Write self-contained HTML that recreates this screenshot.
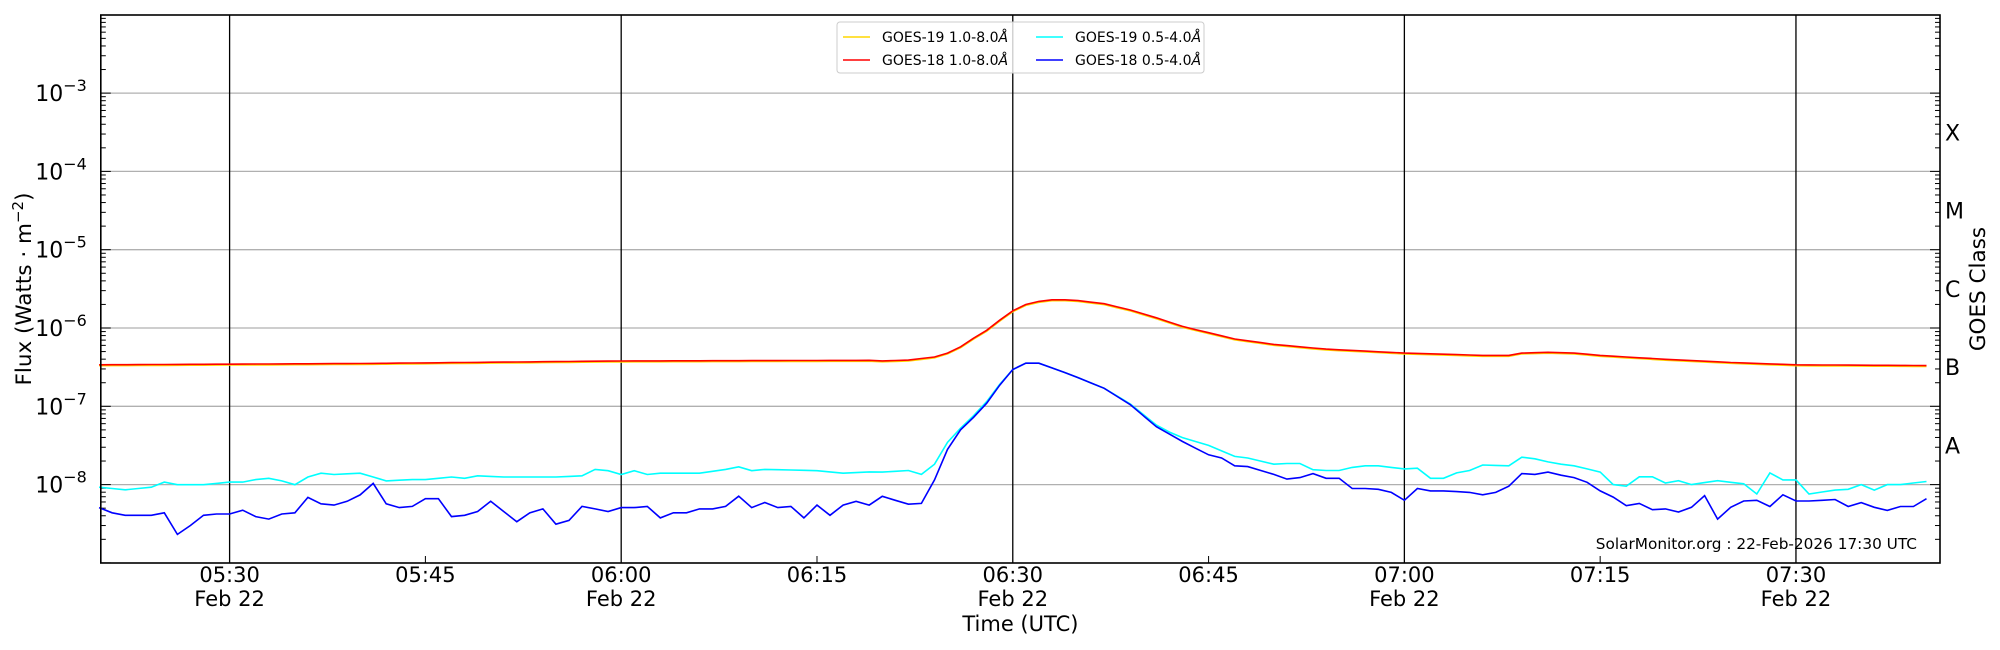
<!DOCTYPE html>
<html><head><meta charset="utf-8"><style>
html,body{margin:0;padding:0;background:#fff;}
svg{display:block;font-family:"DejaVu Sans","Liberation Sans",sans-serif;}
</style></head><body>
<svg id="s" width="2000" height="650" viewBox="0 0 2000 650" xmlns="http://www.w3.org/2000/svg"></svg>
<script>
const L=100.8,R=1940,T=15,B=563;
function Y(lg){return 93.1+(-3-lg)*78.3;}
function X(m){return 229.6+(m-30)*13.053;}
function D(lg){return Y(lg)/1.2755;}
const s=document.getElementById('s');
let h='';
for(let e=-8;e<=-3;e++){h+=`<line x1="${L}" x2="${R}" y1="${Y(e)}" y2="${Y(e)}" stroke="#b0b0b0" stroke-width="1.3"/>`;}
for(let m=30;m<=150;m+=30){h+=`<line x1="${X(m)}" x2="${X(m)}" y1="${T}" y2="${B}" stroke="#000" stroke-width="1.3"/>`;}
for(let m=45;m<=135;m+=30){h+=`<line x1="${X(m)}" x2="${X(m)}" y1="${B}" y2="${B-7}" stroke="#000" stroke-width="1"/>`;}
for(let e=-9;e<=-3;e++){
  for(let k=1;k<=9;k++){
    const lg=e+Math.log10(k); const y=Y(lg); if(y<T||y>B)continue;
    const len=k==1?10:5;
    h+=`<line x1="${L}" x2="${L+len}" y1="${y}" y2="${y}" stroke="#000" stroke-width="1"/>`;
    h+=`<line x1="${R}" x2="${R-len}" y1="${y}" y2="${y}" stroke="#000" stroke-width="1"/>`;
  }
}
function series(keys){
  const pts=[];
  for(let m=20;m<=160;m++){
    let i=0; while(i<keys.length-2&&keys[i+1][0]<m)i++;
    const [m0,y0]=keys[i],[m1,y1]=keys[i+1];
    const t=m1==m0?0:Math.max(0,Math.min(1,(m-m0)/(m1-m0)));
    const yd=y0+(y1-y0)*t;
    pts.push([X(m),yd*1.2755]);
  }
  return pts.map((p,i)=>(i?'L':'M')+p[0].toFixed(1)+' '+p[1].toFixed(1)).join(' ');
}
const lg=a=>a.map(([m,v])=>[m,D(v)]);
const redK=[[20,286],[40,285],[60,283],[79,282.5]].concat(lg([[80,-6.42],[82,-6.41],[84,-6.37],[85,-6.32],[86,-6.24],[87,-6.13],[88,-6.03],[89,-5.9],[90,-5.78],[91,-5.70],[92,-5.66],[93,-5.64],[94,-5.64],[95,-5.65],[97,-5.69],[99,-5.77],[101,-5.87],[103,-5.98],[105,-6.06],[107,-6.14],[110,-6.21],[114,-6.27],[120,-6.32],[126,-6.35],[128,-6.35],[129,-6.32],[131,-6.31],[133,-6.32],[135,-6.35],[140,-6.40],[145,-6.44],[150,-6.47],[160,-6.48]]));
const yelK=redK.map(k=>[k[0],k[1]+0.7]);
const cyanK=[[20,382],[21,383],[22,384],[23,383],[24,382],[25,378],[26,380],[28,380],[30,378],[31,378],[32,376],[33,375],[34,377],[35,380],[36,374],[37,371],[38,372],[40,371],[42,377],[44,376],[45,376],[47,374],[48,375],[49,373],[51,374],[55,374],[57,373],[58,368],[59,369],[60,372],[61,369],[62,372],[63,371],[66,371],[68,368],[69,366],[70,369],[71,368],[75,369],[77,371],[79,370]].concat(lg([[80,-7.84],[81,-7.83],[82,-7.82],[83,-7.87],[84,-7.74],[85,-7.46],[86,-7.28],[87,-7.12],[88,-6.94],[89,-6.72],[90,-6.53],[91,-6.45],[92,-6.45],[94.5,-6.6],[97,-6.77],[99,-6.97],[101,-7.24],[102,-7.33],[103,-7.40],[105,-7.50],[107,-7.64],[108,-7.66],[110,-7.74],[111,-7.73],[112,-7.73],[113,-7.81],[114,-7.82],[115,-7.82],[116,-7.78],[117,-7.76],[118,-7.76],[120,-7.80],[121,-7.79],[122,-7.92],[123,-7.92],[124,-7.85],[125,-7.82],[126,-7.75],[128,-7.76],[129,-7.65],[130,-7.67],[131,-7.71],[132,-7.74],[133,-7.76],[134,-7.80],[135,-7.84],[136,-8.0],[137,-8.02],[138,-7.90],[139,-7.90],[140,-7.98],[141,-7.95],[142,-8.0],[144,-7.95],[146,-7.99],[147,-8.12],[148,-7.85],[149,-7.94],[150,-7.94],[151,-8.12],[153,-8.07],[154,-8.06],[155,-8.0],[156,-8.07],[157,-8.0],[158,-8.0],[160,-7.96]]));
const blueK=[[20,398],[21,402],[22,404],[24,404],[25,402],[26,419],[27,412],[28,404],[29,403],[30,403],[31,400],[32,405],[33,407],[34,403],[35,402],[36,390],[37,395],[38,396],[39,393],[40,388],[41,379],[42,395],[43,398],[44,397],[45,391],[46,391],[47,405],[48,404],[49,401],[50,393],[51,401],[52,409],[53,402],[54,399],[55,411],[56,408],[57,397],[58,399],[59,401],[60,398],[61,398],[62,397],[63,406],[64,402],[65,402],[66,399],[67,399],[68,397],[69,389],[70,398],[71,394],[72,398],[73,397],[74,406],[75,396],[76,404],[77,396],[78,393],[79,396]].concat(lg([[80,-8.15],[81,-8.2],[82,-8.25],[83,-8.24],[84,-7.94],[85,-7.55],[86,-7.30],[87,-7.14],[88,-6.96],[89,-6.73],[90,-6.53],[91,-6.45],[92,-6.45],[94.5,-6.6],[97,-6.77],[99,-6.98],[101,-7.26],[103,-7.45],[105,-7.62],[106,-7.66],[107,-7.76],[108,-7.77],[110,-7.87],[111,-7.93],[112,-7.91],[113,-7.86],[114,-7.92],[115,-7.92],[116,-8.05],[117,-8.05],[118,-8.06],[119,-8.10],[120,-8.20],[121,-8.05],[122,-8.08],[123,-8.08],[124,-8.09],[125,-8.10],[126,-8.13],[127,-8.10],[128,-8.02],[129,-7.86],[130,-7.87],[131,-7.84],[132,-7.88],[133,-7.91],[134,-7.97],[135,-8.08],[136,-8.16],[137,-8.27],[138,-8.24],[139,-8.32],[140,-8.31],[141,-8.35],[142,-8.29],[143,-8.14],[144,-8.44],[145,-8.29],[146,-8.21],[147,-8.20],[148,-8.28],[149,-8.13],[150,-8.21],[151,-8.21],[153,-8.19],[154,-8.28],[155,-8.23],[156,-8.29],[157,-8.33],[158,-8.28],[159,-8.28],[160,-8.18]]));
h+=`<path d="${series(yelK)}" fill="none" stroke="#ffd700" stroke-width="1.6"/>`;
h+=`<path d="${series(redK)}" fill="none" stroke="#ff0000" stroke-width="1.6"/>`;
h+=`<path d="${series(cyanK)}" fill="none" stroke="#00ffff" stroke-width="1.6"/>`;
h+=`<path d="${series(blueK)}" fill="none" stroke="#0000ff" stroke-width="1.6"/>`;
h+=`<rect x="${L}" y="${T}" width="${R-L}" height="${B-T}" fill="none" stroke="#000" stroke-width="1.6"/>`;
for(let e=-8;e<=-3;e++){const y=Y(e);h+=`<text x="${L-14}" y="${y+8}" font-size="22" text-anchor="end">10<tspan font-size="16" dy="-10">−${-e}</tspan></text>`;}
[['A',-7.5],['B',-6.5],['C',-5.5],['M',-4.5],['X',-3.5]].forEach(([c,l])=>{h+=`<text x="${R+5}" y="${Y(l)+8}" font-size="22">${c}</text>`;});
const lab=[[30,'05:30',1],[45,'05:45',0],[60,'06:00',1],[75,'06:15',0],[90,'06:30',1],[105,'06:45',0],[120,'07:00',1],[135,'07:15',0],[150,'07:30',1]];
lab.forEach(([m,t,d])=>{h+=`<text x="${X(m)}" y="${B+19}" font-size="21" text-anchor="middle">${t}</text>`;if(d)h+=`<text x="${X(m)}" y="${B+43}" font-size="21" text-anchor="middle">Feb 22</text>`;});
h+=`<text x="${(L+R)/2}" y="631" font-size="21" text-anchor="middle">Time (UTC)</text>`;
h+=`<text transform="translate(31,289) rotate(-90)" font-size="21.5" text-anchor="middle">Flux (Watts · m<tspan font-size="15" dy="-8">−2</tspan><tspan dy="8">)</tspan></text>`;
h+=`<text transform="translate(1985,289) rotate(-90)" font-size="21.5" text-anchor="middle">GOES Class</text>`;
h+=`<text x="1917" y="549" font-size="15.3" text-anchor="end">SolarMonitor.org : 22-Feb-2026 17:30 UTC</text>`;
h+=`<rect x="837" y="22" width="367" height="51" rx="3" fill="#fff" fill-opacity="0.8" stroke="#ccc" stroke-width="1"/>`;
const leg=[[843,37,'#ffd700','GOES-19 1.0-8.0'],[843,60,'#ff0000','GOES-18 1.0-8.0'],[1036,37,'#00ffff','GOES-19 0.5-4.0'],[1036,60,'#0000ff','GOES-18 0.5-4.0']];
leg.forEach(([x,y,c,t])=>{h+=`<line x1="${x}" x2="${x+27}" y1="${y}" y2="${y}" stroke="${c}" stroke-width="1.6"/><text x="${x+39}" y="${y+5}" font-size="14">${t}<tspan font-style="italic">Å</tspan></text>`;});
s.innerHTML=h;
</script>
</body></html>
